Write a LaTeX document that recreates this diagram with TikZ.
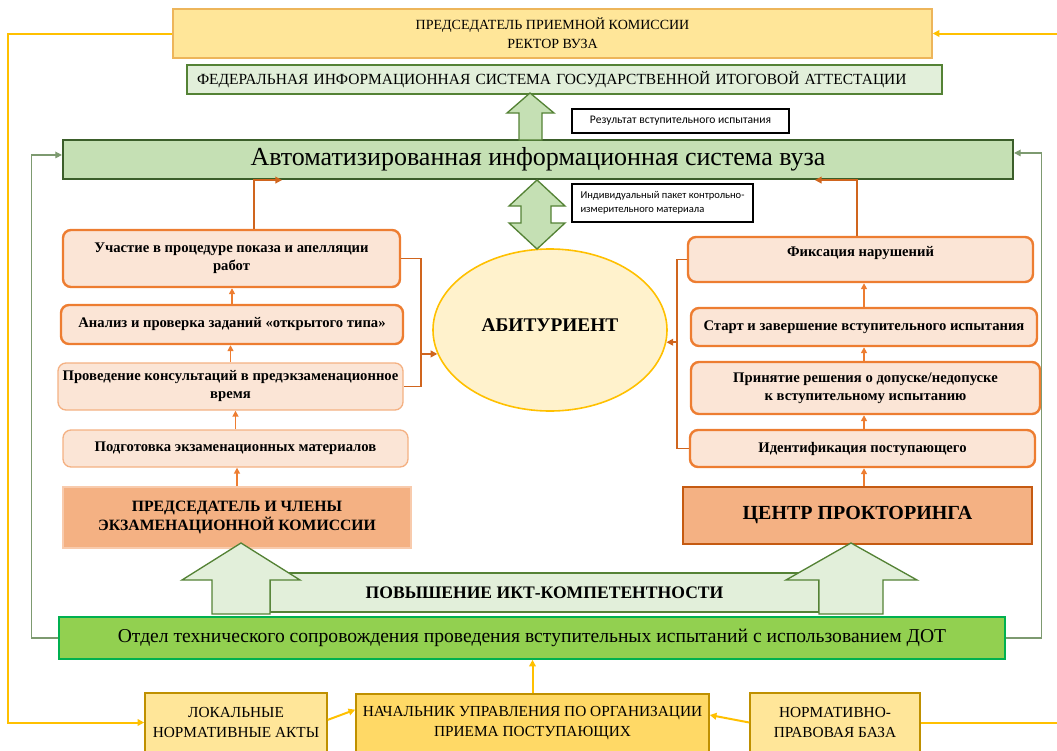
\documentclass[tikz,border=0pt]{standalone}
\usepackage{fontspec}
\setmainfont{Liberation Serif}
\newfontfamily\calibri{Carlito}
\usetikzlibrary{arrows.meta, shapes.geometric, calc}

\definecolor{chairfill}{HTML}{FFE699}
\definecolor{chairline}{HTML}{EDB55A}
\definecolor{fisfill}{HTML}{E2EFDA}
\definecolor{fisline}{HTML}{548235}
\definecolor{aisfill}{HTML}{C5E0B4}
\definecolor{aisline}{HTML}{3B5E2A}
\definecolor{orfill}{HTML}{FBE5D6}
\definecolor{orline}{HTML}{ED7D31}
\definecolor{orlight}{HTML}{F4B183}
\definecolor{orlink}{HTML}{D0651E}
\definecolor{headfill}{HTML}{F4B183}
\definecolor{headlight}{HTML}{F8CBAD}
\definecolor{proctline}{HTML}{C55A11}
\definecolor{abitfill}{HTML}{FFF2CC}
\definecolor{abitline}{HTML}{FFC000}
\definecolor{otdelfill}{HTML}{92D050}
\definecolor{otdelline}{HTML}{00B050}
\definecolor{gline}{HTML}{7D9A70}
\definecolor{yline}{HTML}{FFC000}
\definecolor{chieffill}{HTML}{FFD966}
\definecolor{baseline}{HTML}{BF9000}

\begin{document}
\begin{tikzpicture}[
    x=0.75pt, y=-0.75pt,
    wh/.style 2 args={minimum width=#1*0.75pt, minimum height=#2*0.75pt},
    box style/.style={draw, inner sep=1pt, align=center},
    chair style/.style={box style, fill=chairfill, draw=chairline, line width=1.1pt,
        font=\fontsize{10.5}{14.3}\selectfont},
    fis style/.style={box style, fill=fisfill, draw=fisline, line width=1.2pt, align=left,
        inner xsep=7.5pt, font=\fontsize{11.6}{14}\selectfont},
    ais style/.style={box style, fill=aisfill, draw=aisline, line width=1.6pt,
        font=\fontsize{19.5}{22}\selectfont},
    note style/.style={draw=black, fill=white, line width=0.8pt, inner sep=0pt,
        align=left, font=\calibri\fontsize{8.7}{10.5}\selectfont},
    stage box/.style={box style, rounded corners=6pt, fill=orfill, draw=orline,
        line width=1.8pt, font=\bfseries\fontsize{11}{13.5}\selectfont},
    stage box light/.style={stage box, draw=orlight, line width=1pt},
    head box/.style={box style, fill=headfill, draw=#1, line width=1.2pt,
        font=\bfseries\fontsize{11.8}{14.3}\selectfont},
    band style/.style={box style, fill=fisfill, draw=fisline, line width=1pt,
        font=\bfseries\fontsize{13.2}{16}\selectfont},
    otdel style/.style={box style, fill=otdelfill, draw=otdelline, line width=1.2pt,
        font=\fontsize{14.7}{18}\selectfont},
    base style/.style={box style, draw=baseline, line width=1.2pt,
        font=\fontsize{11.5}{15}\selectfont},
    link line/.style={draw=orlink, line width=1.2pt},
    link arrow/.style={link line, -{Triangle[length=5pt,width=5pt]}},
    up arrow/.style={draw=orline, line width=1.2pt, -{Triangle[length=4.5pt,width=4.5pt]}},
    yellow line/.style={draw=yline, line width=1.5pt},
    yellow link/.style={yellow line, -{Triangle[length=5pt,width=5pt]}},
    green link/.style={draw=gline, line width=0.8pt, -{Triangle[length=5pt,width=5pt]}},
    block arrow/.style={fill=#1, draw=fisline, line width=1pt, line join=miter}
]

\useasboundingbox (0,0) rectangle (1057,750);
\clip (0,0) rectangle (1057,750);

% Top of the scheme
\node[chair style, wh={759}{49}] (chair) at (552.5,33.5) {ПРЕДСЕДАТЕЛЬ ПРИЕМНОЙ КОМИССИИ\\РЕКТОР ВУЗА};
\node[fis style, minimum height=29*0.75pt, text width=551.25pt] (fis) at (564.5,79.5) {ФЕДЕРАЛЬНАЯ ИНФОРМАЦИОННАЯ СИСТЕМА ГОСУДАРСТВЕННОЙ ИТОГОВОЙ АТТЕСТАЦИИ};
\node[note style, wh={217}{24}] (result) at (680.5,121) {Результат вступительного испытания};
\node[ais style, wh={950}{39}] (ais) at (538,159.5) {Автоматизированная информационная система вуза};
\node[note style, wh={181}{38}, font=\calibri\fontsize{7.9}{10.5}\selectfont] (kim) at (662.5,203) {Индивидуальный пакет контрольно-\\измерительного материала};

% Centre
\node[ellipse, fill=abitfill, draw=abitline, line width=1.2pt, inner sep=0pt, wh={234}{162},
    text depth=8pt, font=\bfseries\fontsize{14.5}{17}\selectfont] (abit) at (550,330) {АБИТУРИЕНТ};

% Examination board column
\node[stage box, wh={337}{57}] (appeal) at (231.5,258.5) {Участие в процедуре показа и апелляции\\работ};
\node[stage box, wh={342}{39}] (check) at (232,324.5) {Анализ и проверка заданий «открытого типа»};
\node[stage box light, wh={345}{47}] (consult) at (230.5,386.5) {Проведение консультаций в предэкзаменационное\\время};
\node[stage box light, wh={345}{37}] (prepare) at (235.5,448.5) {Подготовка экзаменационных материалов};
\node[head box=headlight, wh={348}{61}] (board) at (237,517.5) {ПРЕДСЕДАТЕЛЬ И ЧЛЕНЫ\\ЭКЗАМЕНАЦИОННОЙ КОМИССИИ};

% Proctoring column
\node[stage box, wh={345}{45}, text depth=12pt] (fix) at (860.5,259.5) {Фиксация нарушений};
\node[stage box, wh={346}{38}] (start) at (864,327) {Старт и завершение вступительного испытания};
\node[stage box, wh={349}{52}] (admit) at (865.5,388) {Принятие решения о допуске/недопуске\\к вступительному испытанию};
\node[stage box, wh={345}{37}] (ident) at (862.5,448.5) {Идентификация поступающего};
\node[head box=proctline, wh={349}{57}, font=\bfseries\fontsize{15}{18}\selectfont] (proctor) at (857.5,515.5) {ЦЕНТР ПРОКТОРИНГА};

% Bottom of the scheme
\node[band style, wh={549}{39}] (ikt) at (544.5,592.5) {ПОВЫШЕНИЕ ИКТ-КОМПЕТЕНТНОСТИ};
\node[otdel style, wh={946}{42}] (otdel) at (532,638) {Отдел технического сопровождения проведения вступительных испытаний с использованием ДОТ};
\node[base style, fill=chairfill, wh={182}{59}] (local) at (236,722.5) {ЛОКАЛЬНЫЕ\\НОРМАТИВНЫЕ АКТЫ};
\node[base style, fill=chieffill, wh={353}{58}] (chief) at (532.5,723) {НАЧАЛЬНИК УПРАВЛЕНИЯ ПО ОРГАНИЗАЦИИ\\ПРИЕМА ПОСТУПАЮЩИХ};
\node[base style, fill=chairfill, wh={170}{59}] (norms) at (835,722.5) {НОРМАТИВНО-\\ПРАВОВАЯ БАЗА};

% Block arrows
\draw[block arrow=aisfill] (519,140) -- (519,113) -- (507,113) -- (530,93) -- (554,113) -- (542,113) -- (542,140) -- cycle;
\draw[block arrow=aisfill] (537,180) -- (565,206) -- (551,206) -- (551,223) -- (565,223) -- (537,249)
    -- (509,223) -- (521,223) -- (521,206) -- (509,206) -- cycle;
\draw[block arrow=fisfill] (212,614) -- (212,580) -- (182,580) -- (241,543) -- (300,580) -- (270,580) -- (270,614) -- cycle;
\draw[block arrow=fisfill] (819,614) -- (819,580) -- (786,580) -- (851,543) -- (917,580) -- (883,580) -- (883,614) -- cycle;

% Yellow lines
\coordinate (righttop) at (1057,33.5);
\coordinate (rightlow) at (1057,722.5);
\draw[yellow link] (chair.west) -- ++(-164,0) |- (local.west);
\draw[yellow link] (righttop) -- (chair.east);
\draw[yellow line] (norms.east) -- (rightlow);
\draw[yellow link] (chief.north) -- (chief.north |- otdel.south);
\draw[yellow link] ([yshift=2pt]local.east) -- ([yshift=10pt]chief.west);
\draw[yellow link] (norms.west) -- ([yshift=6pt]chief.east);

% Green lines
\draw[green link] (otdel.west) -- ++(-27,0) |- ([yshift=3.4pt]ais.west);
\draw[green link] (otdel.east) -- ++(36,0) |- ([yshift=4.9pt]ais.east);

% Orange links
\draw[link arrow] ([xshift=16.9pt]appeal.north) |- ([xshift=-192pt]ais.south);
\draw[link arrow] ([xshift=-2.6pt]fix.north) |- ([xshift=207.7pt]ais.south);
\draw[link line] (appeal.east) -- ++(20,0) coordinate (lbr) |- (consult.east);
\draw[link arrow] (abit.192 -| lbr) -- (abit.192);
\draw[link line] (fix.west) -- ++(-10,0) coordinate (rbr) |- (ident.west);
\draw[link arrow] (abit.-6 -| rbr) -- (abit.-6);

\foreach \lo/\hi in {board/prepare, prepare/consult, consult/check, check/appeal}
    \draw[up arrow] (\lo.north) -- (\lo.north |- \hi.south);
\foreach \lo/\hi in {proctor/ident, ident/admit, admit/start, start/fix}
    \draw[up arrow] (start.north |- \lo.north) -- (start.north |- \hi.south);

\end{tikzpicture}
\end{document}
